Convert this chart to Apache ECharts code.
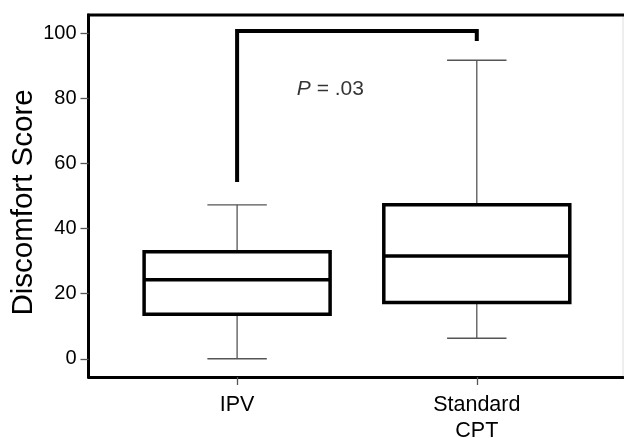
<!DOCTYPE html>
<html>
<head>
<meta charset="utf-8">
<script src="https://cdn.jsdelivr.net/npm/echarts@6/dist/echarts.min.js"></script>
<style>
  html, body { margin: 0; padding: 0; background: #fff; }
  #chart { width: 624px; height: 438px; }
</style>
</head>
<body>
<div id="chart"></div>
<script>
// 组别与数值
const categories = ['IPV', 'Standard\nCPT']
const groupX = [1, 2]
const whiskerLow = [0, 6.3]
const q1 = [13.7, 17.3]
const median = [24.3, 31.6]
const q3 = [32.9, 47.3]
const whiskerHigh = [47.3, 91.7]

// 显著性括号
const bracketX = [1, 1, 2, 2]
const bracketY = [54.3, 100.7, 100.7, 97.6]
const pLabel = 'P = .03'
const pLabelPos = [1.249, 82.8]

const yTicks = [0, 20, 40, 60, 80, 100]

const FONT = '"Liberation Sans", Arial, sans-serif'
const BOX_HALF = 0.388
const CAP_HALF = 0.124

const chart = echarts.init(document.getElementById('chart'))

const boxData = groupX.map((x, i) => [x, whiskerLow[i], q1[i], median[i], q3[i], whiskerHigh[i]])

function renderBox(params, api) {
    const x = api.value(0)
    const lo = api.coord([x, api.value(1)])
    const b1 = api.coord([x - BOX_HALF, api.value(2)])
    const b2 = api.coord([x + BOX_HALF, api.value(4)])
    const med = api.value(3)
    const m1 = api.coord([x - BOX_HALF, med])
    const m2 = api.coord([x + BOX_HALF, med])
    const hi = api.coord([x, api.value(5)])
    const c1 = api.coord([x - CAP_HALF, 0])
    const c2 = api.coord([x + CAP_HALF, 0])
    const thin = { stroke: '#555', lineWidth: 1.3 }
    const thick = { stroke: '#000', lineWidth: 3.5, fill: 'none' }
    return {
        type: 'group',
        children: [
            // 须线
            { type: 'line', shape: { x1: lo[0], y1: lo[1], x2: lo[0], y2: b1[1] }, style: thin },
            { type: 'line', shape: { x1: hi[0], y1: hi[1], x2: hi[0], y2: b2[1] }, style: thin },
            { type: 'line', shape: { x1: c1[0], y1: lo[1], x2: c2[0], y2: lo[1] }, style: thin },
            { type: 'line', shape: { x1: c1[0], y1: hi[1], x2: c2[0], y2: hi[1] }, style: thin },
            // 箱体
            { type: 'rect', shape: { x: b1[0], y: b2[1], width: b2[0] - b1[0], height: b1[1] - b2[1] }, style: thick },
            { type: 'line', shape: { x1: m1[0], y1: m1[1], x2: m2[0], y2: m2[1] }, style: { stroke: '#000', lineWidth: 3.5 } }
        ]
    }
}

const option = {
    animation: false,
    backgroundColor: '#fff',
    grid: {
        left: 88.5,
        right: 1,
        top: 15,
        bottom: 61,
        containLabel: false,
        outerBoundsMode: 'none',
        show: true,
        borderColor: '#ddd',
        borderWidth: 1
    },
    xAxis: {
        type: 'value',
        min: 0.38,
        max: 2.61,
        axisLine: { show: true, onZero: false, lineStyle: { color: '#000', width: 3 } },
        axisTick: {
            show: true,
            customValues: groupX,
            length: 8,
            lineStyle: { color: '#555', width: 1.3 }
        },
        axisLabel: {
            customValues: groupX,
            formatter: v => categories[groupX.indexOf(v)] || '',
            color: '#000',
            fontFamily: FONT,
            fontSize: 21.5,
            lineHeight: 26,
            margin: 15
        },
        splitLine: { show: false }
    },
    yAxis: {
        type: 'value',
        min: -5.6,
        max: 105.6,
        name: 'Discomfort Score',
        nameLocation: 'middle',
        nameGap: 50,
        nameMoveOverlap: false,
        nameTextStyle: { color: '#000', fontFamily: FONT, fontSize: 29.5, padding: [0, 13, 0, 0] },
        axisLine: { show: true, onZero: false, lineStyle: { color: '#000', width: 3 } },
        axisTick: {
            show: true,
            customValues: yTicks,
            length: 8,
            lineStyle: { color: '#555', width: 1.3 }
        },
        axisLabel: {
            customValues: yTicks,
            color: '#000',
            fontFamily: FONT,
            fontSize: 20,
            margin: 12
        },
        splitLine: { show: false }
    },
    graphic: [
        // 顶部边框
        { type: 'line', shape: { x1: 87, y1: 15, x2: 624, y2: 15 }, style: { stroke: '#000', lineWidth: 3 }, z: 10 }
    ],
    series: [
        {
            type: 'custom',
            renderItem: renderBox,
            data: boxData,
            encode: { x: 0, y: [1, 2, 3, 4, 5] },
            z: 5
        },
        {
            type: 'line',
            data: bracketX.map((x, i) => [x, bracketY[i]]),
            symbol: 'none',
            lineStyle: { color: '#000', width: 4, join: 'miter', cap: 'butt' },
            z: 6
        },
        {
            type: 'scatter',
            data: [pLabelPos],
            symbolSize: 0,
            label: {
                show: true,
                position: [0, 0],
                align: 'left',
                verticalAlign: 'middle',
                formatter: '{i|P}{n| = .03}',
                rich: {
                    i: { fontFamily: FONT, fontSize: 21, fontStyle: 'italic', color: '#000' },
                    n: { fontFamily: FONT, fontSize: 21, color: '#000' }
                }
            }
        }
    ]
}

chart.setOption(option)
</script>
</body>
</html>
